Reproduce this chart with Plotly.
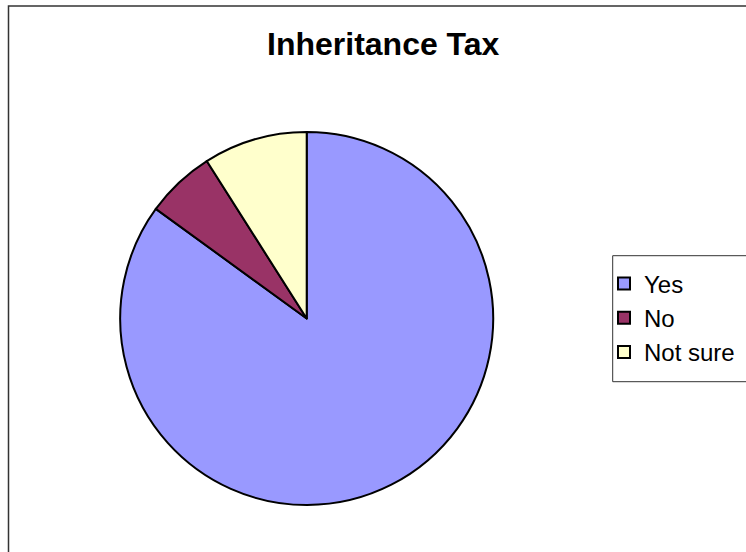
import plotly.graph_objects as go

labels = ["Yes", "No", "Not sure"]
values = [85, 6, 9]
colors = ["#9999FF", "#993366", "#FFFFCC"]
title_text = "Inheritance Tax"

W, H = 746, 552
cx, cy, r = 306.7, 318.5, 186.5
FONT = "Liberation Sans, Arial, sans-serif"

fig = go.Figure(go.Pie(
    labels=labels, values=values, sort=False, direction="clockwise", rotation=0,
    marker=dict(colors=colors, line=dict(color="black", width=2)),
    textinfo="none", hoverinfo="label+value",
    domain=dict(x=[(cx - r) / W, (cx + r) / W], y=[(H - cy - r) / H, (H - cy + r) / H]),
))

# legend frame (drawn as a shape so the text can sit close to the swatches)
lx0, ly0, ly1 = 612.7, 255.7, 381.7

fig.update_layout(
    width=W, height=H,
    margin=dict(l=0, r=0, t=0, b=0, autoexpand=False),
    paper_bgcolor="white", plot_bgcolor="white",
    font=dict(family=FONT, color="black"),
    showlegend=True,
    legend=dict(x=604 / W, y=1 - 318 / H, xanchor="left", yanchor="middle",
                font=dict(size=24, family=FONT),
                bgcolor="rgba(0,0,0,0)", borderwidth=0),
    annotations=[dict(text="<b>" + title_text + "</b>", x=383.8 / W, y=1 - 44.3 / H,
                      xref="paper", yref="paper", xanchor="center", yanchor="middle",
                      showarrow=False,
                      font=dict(size=32, family=FONT, color="black"))],
    shapes=[
        dict(type="rect", xref="paper", yref="paper",
             x0=8.5 / W, x1=1.05, y0=-0.05, y1=1 - 6 / H,
             line=dict(color="#333333", width=1.5), layer="below"),
        dict(type="rect", xref="paper", yref="paper",
             x0=lx0 / W, x1=1.05, y0=1 - ly1 / H, y1=1 - ly0 / H,
             line=dict(color="#333333", width=1), fillcolor="white", layer="below"),
    ],
)

fig.write_html("out.html", config={"displayModeBar": False},
               post_script="document.body.style.margin='0';")
